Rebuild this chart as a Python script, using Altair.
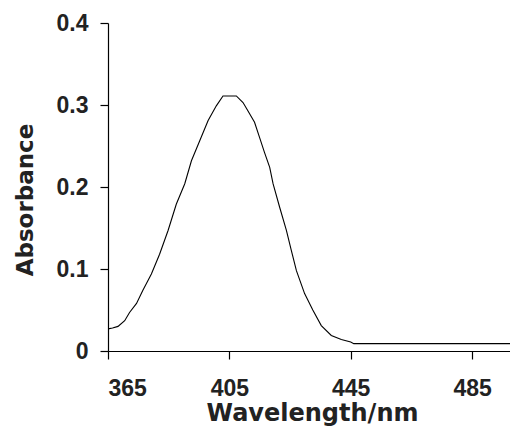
import altair as alt
import pandas as pd

wavelength = [365, 366.5, 368.3, 370.5, 372.1, 374.4, 376.5, 379.3, 382.0, 384.8,
              387.5, 390.3, 392.5, 395.2, 398.0, 400.7, 402.9, 404.0, 407.3, 409.5,
              411.1, 413.3, 415.0, 416.6, 418.3, 419.4, 421.6, 423.8, 425.4, 427.1,
              429.8, 432.5, 435.3, 438.6, 441.9, 445.0, 446.0, 497.5]
absorbance = [0.027, 0.028, 0.030, 0.037, 0.047, 0.058, 0.074, 0.094, 0.118, 0.147,
              0.179, 0.204, 0.232, 0.256, 0.281, 0.299, 0.311, 0.311, 0.311, 0.303,
              0.293, 0.279, 0.260, 0.242, 0.224, 0.204, 0.175, 0.147, 0.123, 0.098,
              0.070, 0.050, 0.031, 0.019, 0.014, 0.011, 0.009, 0.009]
x_ticks = [365, 405, 445, 485]
y_ticks = [0, 0.1, 0.2, 0.3, 0.4]

df = pd.DataFrame({"wl": wavelength, "a": absorbance})

LABEL_FONT = "Liberation Sans, Arial, sans-serif"
TITLE_FONT = "DejaVu Sans, sans-serif"

chart = alt.Chart(df).mark_line(color="black", strokeWidth=1.1, clip=True).encode(
    x=alt.X("wl:Q",
            scale=alt.Scale(domain=[365, 497.5], nice=False, zero=False),
            axis=alt.Axis(values=x_ticks, title="Wavelength/nm", grid=False,
                          labelFont=LABEL_FONT, labelFontWeight="bold", labelFontSize=23,
                          labelColor="#222", labelPadding=18, labelBaseline="top",
                          tickSize=8, tickColor="black", tickWidth=1.2,
                          domainColor="black", domainWidth=1.2,
                          titleFont=TITLE_FONT, titleFontWeight="bold", titleFontSize=24,
                          titleColor="#222", titleBaseline="alphabetic", titleY=69,
                          titleX=204)),
    y=alt.Y("a:Q",
            scale=alt.Scale(domain=[0, 0.4], nice=False),
            axis=alt.Axis(values=y_ticks, format=".1~f", title="Absorbance", grid=False,
                          labelFont=LABEL_FONT, labelFontWeight="bold", labelFontSize=23,
                          labelColor="#222", labelPadding=12,
                          tickSize=8, tickColor="black", tickWidth=1.2,
                          domainColor="black", domainWidth=1.2,
                          titleFont=TITLE_FONT, titleFontWeight="bold", titleFontSize=23,
                          titleColor="#222", titleBaseline="alphabetic", titleAngle=270,
                          titleX=-75.3, titleY=176.5)),
).properties(
    width=402, height=328,
    autosize=alt.AutoSizeParams(type="none"),
    padding={"left": 100, "top": 15, "right": 0, "bottom": 77},
).configure_view(stroke=None)

chart.save("out.html", embed_options={"renderer": "svg", "actions": False})
